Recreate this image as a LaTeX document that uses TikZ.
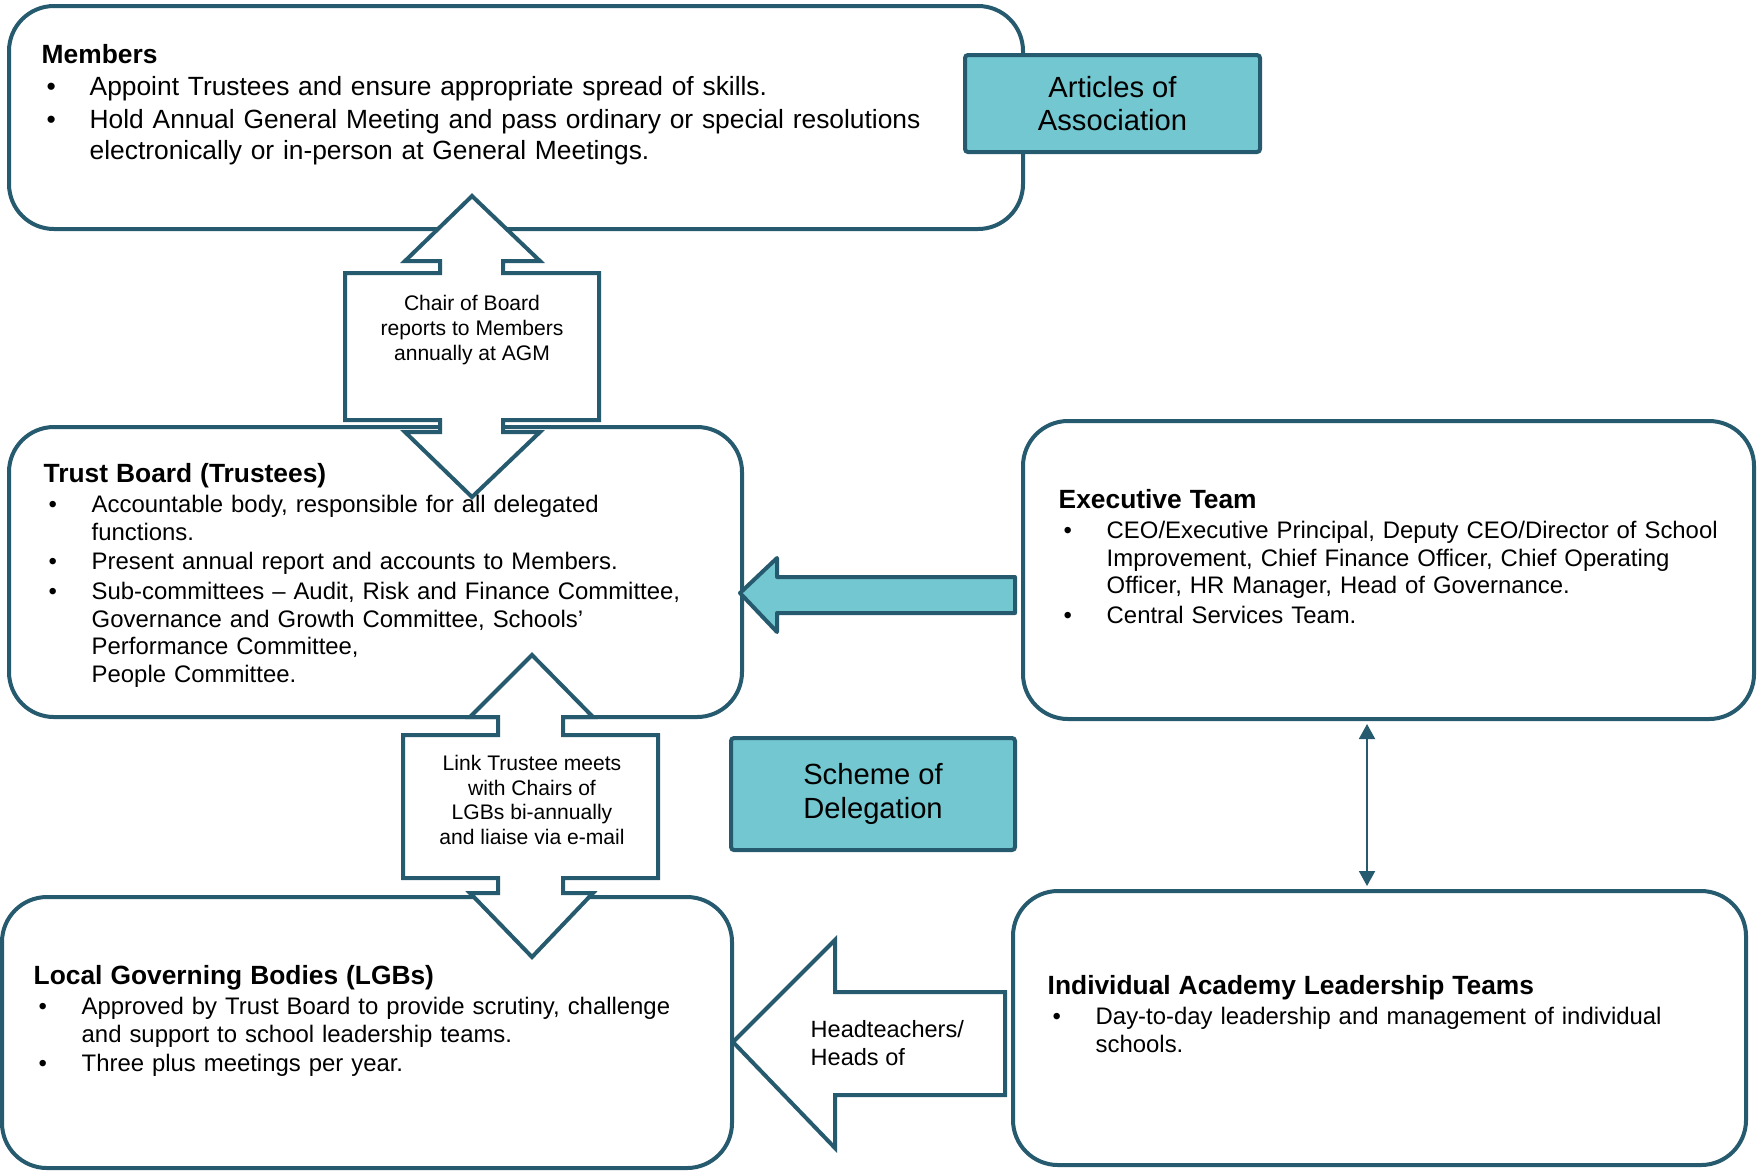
\documentclass[tikz,border=0pt]{standalone}
\usepackage{fontspec}
\setmainfont{Liberation Sans}
\usetikzlibrary{positioning,fit,arrows.meta}

\definecolor{govdark}{RGB}{38,90,110}
\definecolor{govteal}{RGB}{114,199,208}

\newcommand{\pitem}[1]{\par\hangindent=4.8mm\hangafter=1\noindent\hspace*{0.5mm}\makebox[4.3mm][l]{\textbullet}#1\par}
\newcommand{\bodyfont}{\fontsize{6.8}{7.8}\selectfont\setlength{\parskip}{0.7pt}}
\newcommand{\memfont}{\fontsize{7.5}{8.6}\selectfont\setlength{\parskip}{1pt}}
\newcommand{\headfont}{\fontsize{7.5}{8.5}\selectfont\bfseries}

\tikzset{
  govbox/.style={draw=govdark, line width=0.4mm, rounded corners=4.5mm, fill=white, inner sep=0pt},
  docbox/.style={draw=govdark, line width=0.4mm, rounded corners=0.3mm, fill=govteal, inner sep=0pt},
  blockarrow/.style={draw=govdark, line width=0.4mm, fill=white, line join=miter},
  boxtext/.style={anchor=north west, inner sep=0pt, text width=90mm, align=left, font=\bodyfont},
  arrowtext/.style={inner sep=0pt, align=center, font=\fontsize{6}{7.1}\selectfont},
}

\begin{document}
\begin{tikzpicture}[x=0.1mm, y=-0.1mm]
  \useasboundingbox (0,0) rectangle (1757,1170);

  % main boxes
  \node[govbox, fit={(9,6) (1023,229)}] (members) {};
  \node[govbox, fit={(9,427) (742,717)}] (trust) {};
  \node[govbox, fit={(1023,421) (1754,719)}] (exec) {};
  \node[govbox, fit={(2,897) (732,1168)}] (lgb) {};
  \node[govbox, fit={(1013,891) (1746,1165)}] (academy) {};

  % documents
  \node[docbox, fit={(965,55) (1260,152)}] (articles) {};
  \node[docbox, fit={(731,738) (1015,850)}] (scheme) {};
  \node[align=center, font=\fontsize{8.3}{9.6}\selectfont] (articlestext) at (articles.center) {Articles of\\Association};
  \node[align=center, font=\fontsize{8.3}{9.6}\selectfont] (schemetext) at (scheme.center) {Scheme of\\Delegation};

  % up-down callouts
  \draw[blockarrow] (472,196) -- (540,261) -- (503,261) -- (503,273) -- (599,273) -- (599,420)
    -- (503,420) -- (503,432) -- (540,432) -- (472,497) -- (405,432) -- (440,432) -- (440,420)
    -- (345,420) -- (345,273) -- (440,273) -- (440,261) -- (405,261) -- cycle;
  \node[arrowtext] (chairtext) at (472,330) {Chair of Board\\reports to Members\\annually at AGM};

  \draw[blockarrow] (532,655) -- (593,717) -- (563,717) -- (563,735) -- (658,735) -- (658,878)
    -- (563,878) -- (563,893) -- (593,893) -- (532,957) -- (470,893) -- (498,893) -- (498,878)
    -- (403,878) -- (403,735) -- (498,735) -- (498,717) -- (470,717) -- cycle;
  \node[arrowtext, font=\fontsize{6}{7}\selectfont] (linktext) at (532,800) {Link Trustee meets\\with Chairs of\\LGBs bi-annually\\and liaise via e-mail};

  % left arrows
  \draw[blockarrow, fill=govteal, line join=round] (740,593) -- (777,558) -- (777,577) -- (1015,577)
    -- (1015,613) -- (777,613) -- (777,632) -- cycle;
  \draw[blockarrow] (733,1042) -- (835,940) -- (835,992) -- (1005,992) -- (1005,1095) -- (835,1095)
    -- (835,1148) -- cycle;
  \node[anchor=west, inner sep=0pt, align=left, font=\fontsize{6.7}{8.2}\selectfont] (headtext) at (810,1043) {Headteachers/\\Heads of};

  % exec <-> academy
  \coordinate (vx) at (1367,0);
  \draw[govdark, line width=0.2mm, {Triangle[width=1.6mm,length=1.5mm]}-{Triangle[width=1.6mm,length=1.5mm]},
    shorten <=0.3mm, shorten >=0.3mm] (exec.south -| vx) -- (academy.north -| vx);

  % texts
  \node[boxtext, font=\memfont] (memberstext) at ([shift={(34,40)}]members.north west)
    {{\headfont Members}\par\vspace{-0.7pt}
     \pitem{Appoint Trustees and ensure appropriate spread of skills.}
     \pitem{Hold Annual General Meeting and pass ordinary or special resolutions\newline electronically or in-person at General Meetings.}};
  \node[boxtext] (trusttext) at ([shift={(36,38)}]trust.north west)
    {{\headfont Trust Board (Trustees)}
     \pitem{Accountable body, responsible for all delegated\newline functions.}
     \pitem{Present annual report and accounts to Members.}
     \pitem{Sub-committees -- Audit, Risk and Finance Committee,\newline Governance and Growth Committee, Schools’\newline Performance Committee,\newline People Committee.}};
  \node[boxtext] (exectext) at ([shift={(37,70)}]exec.north west)
    {{\headfont Executive Team}
     \pitem{CEO/Executive Principal, Deputy CEO/Director of School\newline Improvement, Chief Finance Officer, Chief Operating\newline Officer, HR Manager, Head of Governance.}
     \pitem{Central Services Team.}};
  \node[boxtext] (lgbtext) at ([shift={(33,70)}]lgb.north west)
    {{\headfont Local Governing Bodies (LGBs)}
     \pitem{Approved by Trust Board to provide scrutiny, challenge\newline and support to school leadership teams.}
     \pitem{Three plus meetings per year.}};
  \node[boxtext] (academytext) at ([shift={(36,86)}]academy.north west)
    {{\headfont Individual Academy Leadership Teams}
     \pitem{Day-to-day leadership and management of individual\newline schools.}};
\end{tikzpicture}
\end{document}
